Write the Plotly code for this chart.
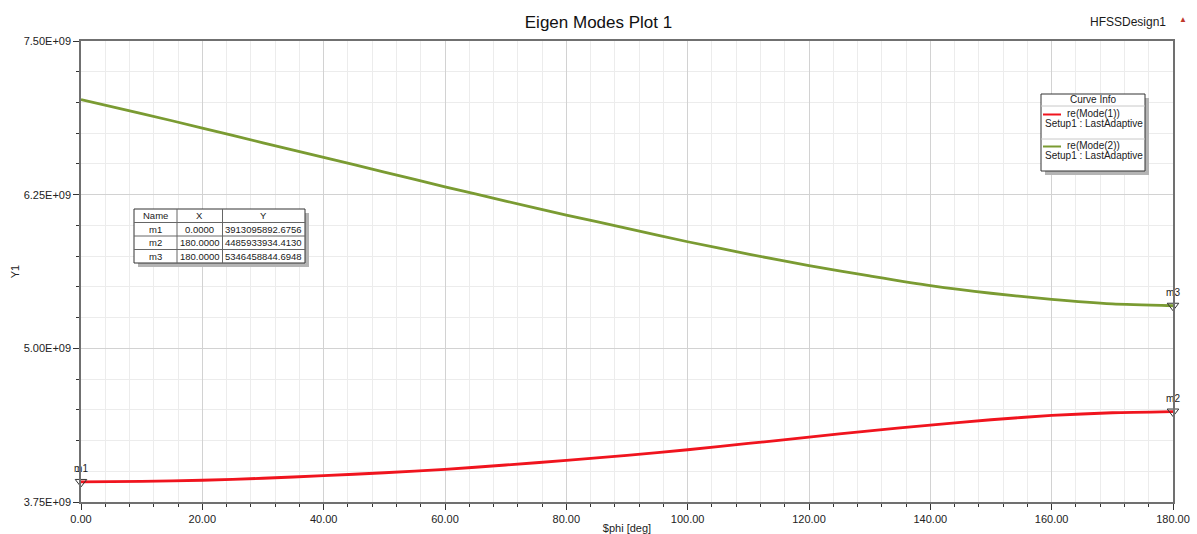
import plotly.graph_objects as go

# ---------------- data ----------------
phi_deg = [0, 10, 20, 30, 40, 50, 60, 70, 80, 90, 100, 110, 120, 130, 140, 150, 160, 170, 180]
mode1_ghz = [3.9131, 3.918, 3.927, 3.943, 3.964, 3.988, 4.015, 4.051, 4.088, 4.129,
             4.175, 4.226, 4.278, 4.329, 4.376, 4.419, 4.454, 4.476, 4.4859]
mode2_ghz = [7.024, 6.91, 6.792, 6.672, 6.553, 6.434, 6.314, 6.198, 6.084, 5.976,
             5.867, 5.767, 5.672, 5.589, 5.510, 5.448, 5.399, 5.362, 5.3465]

marker_names = ["m1", "m2", "m3"]
marker_x = [0.0, 180.0, 180.0]
marker_y = [3913095892.6756, 4485933934.4130, 5346458844.6948]
table_header = ["Name", "X", "Y"]

curve_names = ["re(Mode(1))", "re(Mode(2))"]
curve_setup = "Setup1 : LastAdaptive"
curve_colors = ["#F0141E", "#7A9B32"]

y_tickvals = [3.75e9, 5.00e9, 6.25e9, 7.50e9]
y_ticktext = ["3.75E+09", "5.00E+09", "6.25E+09", "7.50E+09"]

# ---------------- geometry helpers ----------------
W, H = 1197, 534
ML, MR, MT, MB = 81, 24, 41, 32
PW, PH = W - ML - MR, H - MT - MB


def px_x(x):
    return (x - ML) / PW


def px_y(y):
    return (H - MB - y) / PH


FONT = "Liberation Sans, Arial, sans-serif"

fig = go.Figure()

for vals, name, col in zip([mode1_ghz, mode2_ghz], curve_names, curve_colors):
    fig.add_trace(go.Scatter(
        x=phi_deg, y=[v * 1e9 for v in vals], mode="lines", name=name,
        line=dict(color=col, width=2.8, shape="spline", smoothing=0.6),
        showlegend=False, hoverinfo="x+y",
    ))

fig.add_trace(go.Scatter(
    x=marker_x, y=marker_y, mode="markers+text", text=marker_names,
    textposition="top center", textfont=dict(family=FONT, size=10, color="#222"),
    marker=dict(symbol="triangle-down-open", size=10, color="#333",
                line=dict(width=1, color="#333")),
    cliponaxis=False, showlegend=False,
))

shapes = []
annotations = []


def rect(x0, y0, x1, y1, fill, line_color=None, lw=0):
    shapes.append(dict(type="rect", xref="paper", yref="paper", layer="above",
                       x0=px_x(x0), x1=px_x(x1), y0=px_y(y1), y1=px_y(y0),
                       fillcolor=fill,
                       line=dict(color=line_color or fill, width=lw)))


def hline(x0, x1, y, color, lw=1):
    shapes.append(dict(type="line", xref="paper", yref="paper", layer="above",
                       x0=px_x(x0), x1=px_x(x1), y0=px_y(y), y1=px_y(y),
                       line=dict(color=color, width=lw)))


def vline(x, y0, y1, color, lw=1):
    shapes.append(dict(type="line", xref="paper", yref="paper", layer="above",
                       x0=px_x(x), x1=px_x(x), y0=px_y(y0), y1=px_y(y1),
                       line=dict(color=color, width=lw)))


def label(text, x, y, anchor="center", size=10):
    annotations.append(dict(text=text, xref="paper", yref="paper",
                            x=px_x(x), y=px_y(y), xanchor=anchor, yanchor="middle",
                            showarrow=False,
                            font=dict(family=FONT, size=size, color="#1a1a1a")))


# ---------------- marker table ----------------
col_edges = [134, 177, 222.5, 305]
row_edges = [209, 222.5, 236, 249.5, 263]
rect(col_edges[0] + 4, row_edges[0] + 4, col_edges[-1] + 4, row_edges[-1] + 4, "#b4b4b4")
rect(col_edges[0], row_edges[0], col_edges[-1], row_edges[-1], "white", "#333", 1)
for ce in col_edges[1:-1]:
    vline(ce, row_edges[0], row_edges[-1], "#666")
for re_ in row_edges[1:-1]:
    hline(col_edges[0], col_edges[-1], re_, "#666")
table_cols = [table_header] + [
    [m, "%.4f" % xv, "%.4f" % yv] for m, xv, yv in zip(marker_names, marker_x, marker_y)
]
for r, row in enumerate(table_cols):
    yc = (row_edges[r] + row_edges[r + 1]) / 2
    for c, txt in enumerate(row):
        xc = (col_edges[c] + col_edges[c + 1]) / 2
        label(txt, xc, yc, size=9.5)

# ---------------- custom "Curve Info" legend ----------------
LX0, LX1, LY0, LY1 = 1041, 1145, 94, 171
rect(LX0 + 4, LY0 + 4, LX1 + 4, LY1 + 4, "#b4b4b4")
rect(LX0, LY0, LX1, LY1, "white", "#333", 1)
for sy in (106, 139):
    hline(LX0, LX1, sy, "#c8c8c8")
label("Curve Info", (LX0 + LX1) / 2, 100)
for i, (name, col) in enumerate(zip(curve_names, curve_colors)):
    top = 114.5 + i * 32
    hline(1043, 1061, top, col, 2)
    label(name, 1065, top - 1, anchor="left")
    label(curve_setup, 1043, top + 9, anchor="left")

# ---------------- design name + logo ----------------
label("HFSSDesign1", 1128, 22, size=12)
label("▲", 1183, 20, size=8)
annotations[-1]["font"]["color"] = "#c0392b"

fig.update_layout(
    width=W, height=H,
    margin=dict(l=ML, r=MR, t=MT, b=MB, autoexpand=False),
    paper_bgcolor="white", plot_bgcolor="white",
    title=dict(text="Eigen Modes Plot 1", x=0.5, xanchor="center",
               y=1 - 22 / H, yanchor="middle",
               font=dict(family=FONT, size=17, color="#111")),
    font=dict(family=FONT, size=11, color="#222"),
    showlegend=False,
    shapes=shapes, annotations=annotations,
    xaxis=dict(
        range=[0, 180], tick0=0, dtick=20, tickformat=".2f", automargin=False,
        showgrid=True, gridcolor="#d2d2d2", gridwidth=1,
        minor=dict(dtick=4, tick0=0, showgrid=True, gridcolor="#ececec",
                   ticks="outside", ticklen=3, tickcolor="#333"),
        ticks="outside", ticklen=6, tickcolor="#333",
        showline=True, linecolor="#707070", linewidth=1.5, mirror=True,
        zeroline=False,
        title=dict(text="$phi [deg]", standoff=4, font=dict(family=FONT, size=11)),
        tickfont=dict(family=FONT, size=11, color="#222"),
    ),
    yaxis=dict(
        range=[3.75e9, 7.5e9], tickvals=y_tickvals, ticktext=y_ticktext, automargin=False,
        showgrid=True, gridcolor="#d2d2d2", gridwidth=1,
        minor=dict(dtick=0.25e9, tick0=3.75e9, showgrid=True, gridcolor="#ececec",
                   ticks="outside", ticklen=3, tickcolor="#333"),
        ticks="outside", ticklen=6, tickcolor="#333",
        showline=True, linecolor="#707070", linewidth=1.5, mirror=True,
        zeroline=False,
        title=dict(text="Y1", standoff=2, font=dict(family=FONT, size=11)),
        tickfont=dict(family=FONT, size=11, color="#222"),
    ),
)

fig.write_html("out.html", config={"displayModeBar": False},
               post_script="document.body.style.margin='0';")
